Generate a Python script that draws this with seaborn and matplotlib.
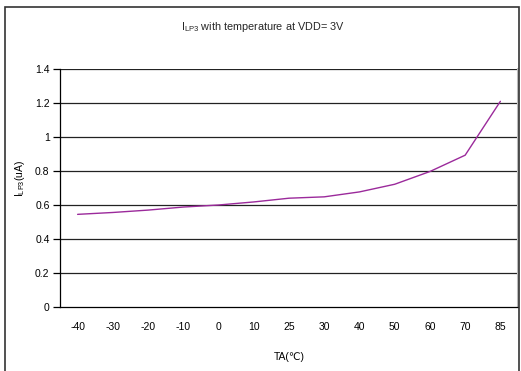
import matplotlib
matplotlib.use("Agg")
import matplotlib.pyplot as plt
import seaborn as sns
import pandas as pd
from matplotlib.patches import Rectangle

# Temperature points (°C) and supply current readings (uA)
temps = ["-40", "-30", "-20", "-10", "0", "10", "25", "30", "40", "50", "60", "70", "85"]
current_ua = [0.545, 0.556, 0.570, 0.588, 0.600, 0.618, 0.640, 0.648, 0.677, 0.722, 0.797, 0.893, 1.21]
y_ticks = [0, 0.2, 0.4, 0.6, 0.8, 1, 1.2, 1.4]

df = pd.DataFrame({"pos": range(len(temps)), "temp": temps, "current": current_ua})

sns.set_theme(style="white")
plt.rcParams["font.family"] = ["Liberation Sans", "DejaVu Sans"]
plt.rcParams["mathtext.default"] = "regular"

W, H = 521, 371
fig = plt.figure(figsize=(W / 100, H / 100), dpi=100)
ax = fig.add_axes([60 / W, 64 / H, 458 / W, 238 / H])

# outer chart frame
fig.patches.append(Rectangle((5 / W, -0.05), 514 / W, 1 - 7 / H + 0.05,
                             transform=fig.transFigure, fill=False,
                             edgecolor="#333333", linewidth=1.2))

for v in y_ticks[1:]:
    ax.axhline(v, color="#222222", linewidth=0.9, zorder=1)

sns.lineplot(data=df, x="pos", y="current", ax=ax, color="#9b2a9b",
             linewidth=1.0, zorder=3)

ax.set_xlim(-0.5, len(temps) - 0.5)
ax.set_ylim(0, 1.4)
ax.set_yticks(y_ticks)
ax.set_yticklabels(["0", "0.2", "0.4", "0.6", "0.8", "1", "1.2", "1.4"], fontsize=7.5)
ax.set_xticks(range(len(temps)))
ax.set_xticklabels(temps, fontsize=7.5)
ax.set_xticks([i - 0.5 for i in range(1, len(temps) + 1)], minor=True)
ax.tick_params(axis="x", which="major", length=0, pad=11, colors="black")
ax.tick_params(axis="x", which="minor", length=4, direction="in", width=0.9, color="black")
ax.tick_params(axis="y", length=5, width=0.9, direction="out", pad=2.5, colors="black")
ax.tick_params(axis="y", left=True)

ax.spines["top"].set_visible(False)
ax.spines["right"].set_color("#bbbbbb")
ax.spines["right"].set_linewidth(1.5)
ax.spines["left"].set_color("black")
ax.spines["left"].set_linewidth(0.9)
ax.spines["bottom"].set_color("black")
ax.spines["bottom"].set_linewidth(0.9)

ax.set_xlabel("TA(℃)", fontsize=7.5, color="black")
ax.set_ylabel("I$_{LP3}$(uA)", fontsize=7.5, color="black")
ax.xaxis.set_label_coords(289 / W, 1 - 357 / H, transform=fig.transFigure)
ax.yaxis.set_label_coords(20 / W, 1 - 178 / H, transform=fig.transFigure)
ax.xaxis.label.set_va("center")
ax.yaxis.label.set_va("center")
fig.text(263 / W, 1 - 27 / H, "I$_{LP3}$ with temperature at VDD= 3V",
         ha="center", va="center", fontsize=7.8)

fig.savefig("out.png", dpi=100)
